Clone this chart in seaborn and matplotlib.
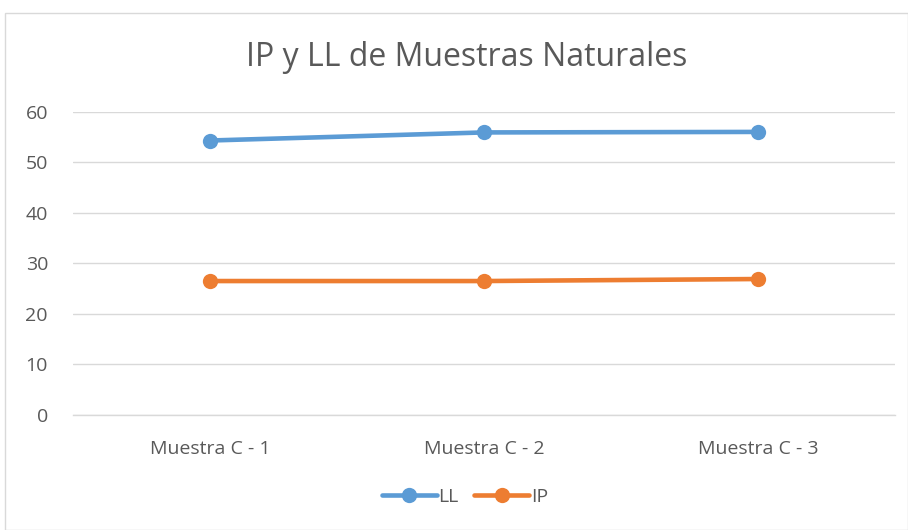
import matplotlib
matplotlib.use("Agg")
import matplotlib.pyplot as plt
import seaborn as sns
import pandas as pd
from matplotlib.patches import Rectangle

muestras = ["Muestra C - 1", "Muestra C - 2", "Muestra C - 3"]
ll = [54.3, 55.9, 56.0]
ip = [26.5, 26.5, 26.9]
series = ["LL", "IP"]
colores = ["#5B9BD5", "#ED7D31"]

df = pd.DataFrame({
    "muestra": muestras * 2,
    "valor": ll + ip,
    "serie": ["LL"] * 3 + ["IP"] * 3,
})

sns.set_style("white")
plt.rcParams["font.family"] = ["Open Sans", "DejaVu Sans"]

fig = plt.figure(figsize=(9.08, 5.30), dpi=100)
ax = fig.add_axes([73 / 908, 1 - 415 / 530, 822 / 908, 303.3 / 530])

sns.lineplot(data=df, x="muestra", y="valor", hue="serie", hue_order=series,
             palette=colores, marker="o", markersize=11, markeredgewidth=0,
             linewidth=3.3, sort=False, ax=ax, clip_on=False, zorder=3)

ax.set_xlim(-0.5, 2.5)
ax.set_ylim(0, 60)
ax.set_yticks(range(0, 61, 10))
ax.yaxis.grid(True, color="#D9D9D9", linewidth=1)
ax.set_axisbelow(True)
for s in ax.spines.values():
    s.set_visible(False)
ax.spines["bottom"].set_visible(True)
ax.spines["bottom"].set_color("#D9D9D9")
ax.spines["bottom"].set_linewidth(1)
ax.tick_params(axis="both", length=0, labelsize=14, labelcolor="#595959")
ax.tick_params(axis="x", pad=18)
ax.tick_params(axis="y", pad=18)
ax.set_xlabel("")
ax.set_ylabel("")

handles, labels = ax.get_legend_handles_labels()
ax.legend(handles, labels, loc="center", bbox_to_anchor=(465 / 908, 1 - 497 / 530),
          bbox_transform=fig.transFigure, ncol=2, frameon=False, fontsize=14,
          labelcolor="#595959", handlelength=2.8, handletextpad=0.1, columnspacing=0.8)

fig.text(467 / 908, 1 - 57 / 530, "IP y LL de Muestras Naturales", ha="center",
         va="center", fontsize=23, color="#595959")

fig.add_artist(Rectangle((5 / 908, 0), 903 / 908, 1 - 13 / 530, transform=fig.transFigure,
                         fill=False, edgecolor="#D9D9D9", linewidth=1))

fig.savefig("out.png", dpi=100)
